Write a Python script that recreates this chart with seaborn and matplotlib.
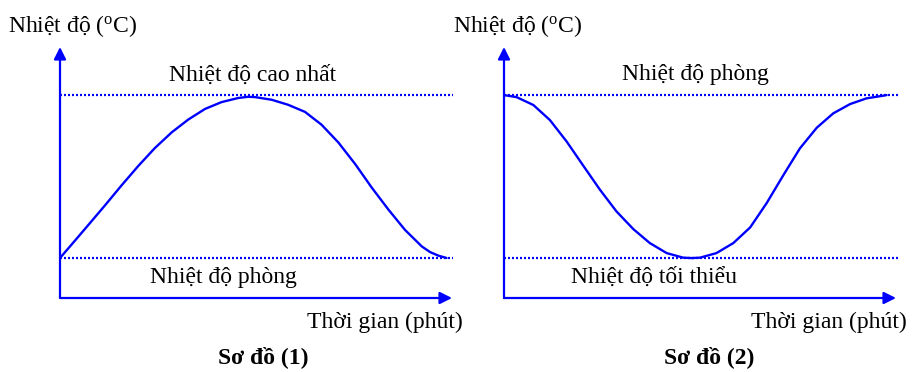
import numpy as np
import pandas as pd
import matplotlib
matplotlib.use("Agg")
import matplotlib.pyplot as plt
import seaborn as sns

# ---- data (time in minutes, temperature in degC; schematic values)
t1 = [0, 3.0, 7.2, 11.5, 15.7, 20.0, 24.2, 28.5, 32.7, 37.0, 41.2, 45.5, 48.0,
      49.7, 54.0, 58.2, 62.5, 66.7, 71.0, 75.3, 79.5, 83.8, 88.0, 92.3, 94.4,
      96.5, 98.6]
temp1 = [25, 29.6, 36.1, 42.8, 49.5, 56.1, 62.1, 67.4, 71.7, 75.3, 77.6, 79.0, 79.4,
         79.3, 78.4, 76.7, 74.3, 70.0, 64.0, 56.7, 48.8, 41.3, 34.5, 28.9, 27.0,
         25.8, 25.0]
t2 = [0, 3.2, 7.5, 11.7, 16.0, 20.2, 24.5, 28.7, 33.0, 37.2, 41.5, 45.7, 47.9,
      50.0, 54.2, 58.5, 62.8, 67.0, 71.3, 75.5, 79.8, 84.0, 88.3, 92.5, 96.8, 97.6]
temp2 = [25, 24.75, 23.78, 21.94, 19.29, 16.35, 13.37, 10.72, 8.55, 6.84, 5.61, 5.05,
         5.0, 5.05, 5.61, 6.84, 8.76, 11.74, 15.2, 18.47, 21.0, 22.76, 23.9, 24.6,
         24.93, 25.0]
room_temp1, max_temp1 = 25, 80
room_temp2, min_temp2 = 25, 5

y_label = "Nhiệt độ ($\\mathregular{^o}$C)"
x_label = "Thời gian (phút)"
labels1 = ["Nhiệt độ cao nhất", "Nhiệt độ phòng", "Sơ đồ (1)"]
labels2 = ["Nhiệt độ phòng", "Nhiệt độ tối thiểu", "Sơ đồ (2)"]

# ---- style
sns.set_theme(style="white")
plt.rcParams["font.family"] = ["Liberation Serif", "DejaVu Serif"]
plt.rcParams["mathtext.fontset"] = "custom"
plt.rcParams["mathtext.rm"] = "Liberation Serif"

BLUE = "#0000ff"
W, H = 917, 372
fig = plt.figure(figsize=(W / 100, H / 100), dpi=100)
fig.patch.set_facecolor("white")


def box(l, r, b, t):
    return [l / W, 1 - b / H, (r - l) / W, (b - t) / H]


ax1 = fig.add_axes(box(60, 452, 298, 47))
ax2 = fig.add_axes(box(504, 896, 298, 47))
ax1.set_ylim(11.5, 96.2)
ax2.set_ylim(0.1, 30.9)


def draw_panel(ax, t, temp, levels, xmax_dot):
    ax.set_xlim(0, 100)
    ax.axis("off")
    y0, y1 = ax.get_ylim()
    for lv in levels:
        ax.hlines(lv, 0, xmax_dot, colors=BLUE, lw=1.6,
                  linestyles=(0, (0.9, 0.9)), clip_on=False, zorder=1)
    df = pd.DataFrame({"t": t, "T": temp})
    sns.lineplot(data=df, x="t", y="T", ax=ax, color=BLUE, lw=1.7,
                 sort=False, zorder=3, solid_joinstyle="round")
    ax.set_xlabel("")
    ax.set_ylabel("")
    ap = dict(arrowstyle="-|>", color=BLUE, lw=1.6, mutation_scale=18,
              shrinkA=0, shrinkB=0)
    ax.annotate("", xy=(0, y1), xytext=(0, y0), arrowprops=ap,
                annotation_clip=False)
    ax.annotate("", xy=(100, y0), xytext=(0, y0), arrowprops=ap,
                annotation_clip=False)


draw_panel(ax1, t1, temp1, [room_temp1, max_temp1], 100.3)
draw_panel(ax2, t2, temp2, [room_temp2, min_temp2], 101.0)


def ftext(x, y, s, ha="left", **kw):
    fig.text(x / W, 1 - y / H, s, ha=ha, va="baseline", fontsize=17,
             color="black", **kw)


ftext(8, 32, y_label)
ftext(253, 81, labels1[0], ha="center")
ftext(223.5, 283, labels1[1], ha="center")
ftext(463, 328, x_label, ha="right")
ftext(263.5, 363, labels1[2], ha="center", fontweight="bold")

ftext(453, 32, y_label)
ftext(695, 80, labels2[0], ha="center")
ftext(654, 283, labels2[1], ha="center")
ftext(907, 328, x_label, ha="right")
ftext(709.5, 363, labels2[2], ha="center", fontweight="bold")

fig.savefig("out.png", dpi=100, facecolor="white")
